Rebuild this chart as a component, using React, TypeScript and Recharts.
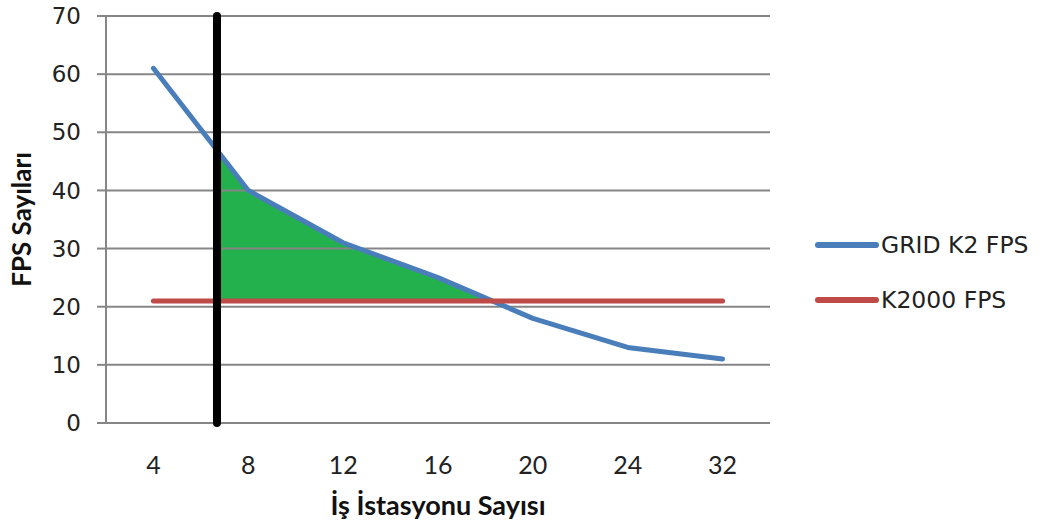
import React from 'react';
import {
  Area,
  ComposedChart,
  Legend,
  Line,
  ReferenceLine,
  XAxis,
  YAxis,
} from 'recharts';

// İş istasyonu sayısı (x kategorileri)
const kategoriler = ['4', '8', '12', '16', '20', '24', '32'];
const gridK2Fps = [61, 40, 31, 25, 18, 13, 11];
const k2000Fps = [21, 21, 21, 21, 21, 21, 21];
const yTicks = [0, 10, 20, 30, 40, 50, 60, 70];
// kalın siyah çizginin konumu (kategori sırası cinsinden, 4 ile 8 arası)
const esik = 0.67;

const table = kategoriler.map((k, i) => ({ x: i, grid: gridK2Fps[i], k2000: k2000Fps[i] }));

// yeşil bölge: siyah çizgiden mavi çizginin kırmızıyı kestiği yere kadar
const buildShade = () => {
  const out: { x: number; band: [number, number] }[] = [];
  const i0 = Math.floor(esik);
  const t0 = esik - i0;
  const startVal = gridK2Fps[i0] + (gridK2Fps[i0 + 1] - gridK2Fps[i0]) * t0;
  out.push({ x: esik, band: [k2000Fps[i0], startVal] });
  let i = i0 + 1;
  while (i < gridK2Fps.length && gridK2Fps[i] > k2000Fps[i]) {
    out.push({ x: i, band: [k2000Fps[i], gridK2Fps[i]] });
    i++;
  }
  if (i < gridK2Fps.length) {
    const a = gridK2Fps[i - 1] - k2000Fps[i - 1];
    const b = gridK2Fps[i] - k2000Fps[i];
    const t = a / (a - b);
    out.push({ x: i - 1 + t, band: [k2000Fps[i], k2000Fps[i]] });
  }
  return out;
};
const shade = buildShade();

const boundaries = kategoriler.map((_, i) => i - 0.5).concat([kategoriler.length - 0.5]);
const centers = kategoriler.map((_, i) => i);

const gray = '#868686';

const LegendContent = (props: any) => {
  const items = (props.payload || []).filter((p: any) => p.type !== 'none');
  return (
    <div style={{ paddingLeft: 45 }}>
      {items.map((e: any, i: number) => (
        <div
          key={e.value}
          style={{ display: 'flex', alignItems: 'center', height: 28, marginTop: i ? 27 : 0 }}
        >
          <svg width={64} height={8}>
            <line x1={3} y1={4} x2={61} y2={4} stroke={e.color} strokeWidth={6} strokeLinecap="round" />
          </svg>
          <span style={{ fontFamily: 'DejaVu Sans', fontSize: 23.5, color: '#222', marginLeft: 2 }}>
            {e.value}
          </span>
        </div>
      ))}
    </div>
  );
};

export default function App() {
  return (
    <div style={{ position: 'absolute', left: 0, top: 0, background: '#fff' }}>
      <ComposedChart
        width={1046}
        height={531}
        data={table}
        margin={{ top: 16, right: 6, bottom: 6, left: 6 }}
      >
        <XAxis
          xAxisId="g"
          type="number"
          dataKey="x"
          domain={[-0.5, 6.5]}
          ticks={boundaries}
          tick={false}
          tickSize={9}
          height={10}
          axisLine={{ stroke: gray, strokeWidth: 2 }}
          tickLine={{ stroke: gray, strokeWidth: 2 }}
        />
        <XAxis
          xAxisId="l"
          type="number"
          dataKey="x"
          domain={[-0.5, 6.5]}
          ticks={centers}
          tickFormatter={(v: number) => kategoriler[v] ?? ''}
          axisLine={false}
          tickLine={false}
          tickSize={0}
          tickMargin={23}
          height={92}
          tick={{ fill: '#222', fontSize: 25, fontFamily: 'Lato' }}
          label={{
            value: 'İş İstasyonu Sayısı',
            position: 'insideBottom',
            offset: 10,
            style: { fontFamily: 'Lato', fontWeight: 700, fontSize: 27, fill: '#111' },
          }}
        />
        <YAxis
          domain={[0, 70]}
          ticks={yTicks}
          width={100}
          tickSize={9}
          tickMargin={16}
          axisLine={{ stroke: gray, strokeWidth: 2 }}
          tickLine={{ stroke: gray, strokeWidth: 2 }}
          tick={{ fill: '#222', fontSize: 23, fontFamily: 'DejaVu Sans' }}
          label={{
            value: 'FPS Sayıları',
            angle: -90,
            position: 'insideLeft',
            offset: 16,
            style: { textAnchor: 'middle', fontFamily: 'Lato', fontWeight: 700, fontSize: 26, fill: '#111' },
          }}
        />
        <Area
          xAxisId="g"
          data={shade}
          dataKey="band"
          type="linear"
          fill="#23b14d"
          fillOpacity={1}
          stroke="none"
          legendType="none"
          isAnimationActive={false}
        />
        {/* yatay ızgara çizgileri, yeşil alanın üstünde görünsün diye */}
        {yTicks.slice(1).map((t) => (
          <ReferenceLine key={t} xAxisId="g" y={t} stroke={gray} strokeWidth={2} zIndex={200} />
        ))}
        <Line
          xAxisId="g"
          dataKey="grid"
          name="GRID K2 FPS"
          type="linear"
          stroke="#4a7ebb"
          strokeWidth={5}
          strokeLinecap="round"
          strokeLinejoin="round"
          dot={false}
          activeDot={false}
          zIndex={300}
          isAnimationActive={false}
        />
        <Line
          xAxisId="g"
          dataKey="k2000"
          name="K2000 FPS"
          type="linear"
          stroke="#be4b48"
          strokeWidth={5}
          strokeLinecap="round"
          dot={false}
          activeDot={false}
          zIndex={300}
          isAnimationActive={false}
        />
        <ReferenceLine
          xAxisId="g"
          x={esik}
          stroke="#000"
          strokeWidth={8}
          strokeLinecap="round"
          zIndex={600}
        />
        <Legend
          layout="vertical"
          align="right"
          verticalAlign="top"
          content={<LegendContent />}
          wrapperStyle={{ top: 231, right: 6, width: 270 }}
        />
      </ComposedChart>
    </div>
  );
}
